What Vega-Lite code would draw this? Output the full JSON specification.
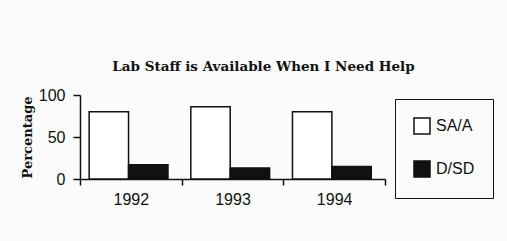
{
  "$schema": "https://vega.github.io/schema/vega-lite/v6.json",
  "autosize": "none",
  "width": 305,
  "height": 84,
  "padding": {"left": 80, "top": 95, "right": 122, "bottom": 62},
  "background": "#fbfbfb",
  "title": {
    "text": "Lab Staff is Available When I Need Help",
    "font": "DejaVu Serif",
    "fontWeight": "bold",
    "fontSize": 13.5,
    "color": "#111111",
    "anchor": "middle",
    "dx": 31,
    "offset": 14
  },
  "data": {
    "values": [
      {"year": "1992", "group": "SA/A", "pct": 80},
      {"year": "1992", "group": "D/SD", "pct": 17},
      {"year": "1993", "group": "SA/A", "pct": 86},
      {"year": "1993", "group": "D/SD", "pct": 13},
      {"year": "1994", "group": "SA/A", "pct": 80},
      {"year": "1994", "group": "D/SD", "pct": 15}
    ]
  },
  "mark": {"type": "bar", "stroke": "#111111", "strokeWidth": 1.5},
  "encoding": {
    "x": {
      "field": "year",
      "type": "nominal",
      "scale": {"paddingInner": 0, "paddingOuter": 0},
      "axis": {
        "title": null,
        "labelAngle": 0,
        "tickBand": "extent",
        "labelFont": "Liberation Sans",
        "labelFontSize": 16,
        "labelColor": "#111111",
        "domainColor": "#111111",
        "domainWidth": 1.5,
        "tickColor": "#111111",
        "tickWidth": 1.5,
        "tickSize": 6,
        "labelPadding": 6
      }
    },
    "xOffset": {
      "field": "group",
      "type": "nominal",
      "sort": ["SA/A", "D/SD"],
      "scale": {"paddingInner": 0, "paddingOuter": 0.29, "align": 0.4}
    },
    "y": {
      "field": "pct",
      "type": "quantitative",
      "scale": {"domain": [0, 100]},
      "axis": {
        "title": "Percentage",
        "titleFont": "DejaVu Serif",
        "titleFontWeight": "bold",
        "titleFontSize": 13,
        "titleColor": "#111111",
        "titlePadding": 4,
        "values": [0, 50, 100],
        "grid": false,
        "labelFont": "Liberation Sans",
        "labelFontSize": 16,
        "labelColor": "#111111",
        "domainColor": "#111111",
        "domainWidth": 1.5,
        "tickColor": "#111111",
        "tickWidth": 1.5,
        "tickSize": 7,
        "labelPadding": 8
      }
    },
    "fill": {
      "field": "group",
      "type": "nominal",
      "sort": ["SA/A", "D/SD"],
      "scale": {"domain": ["SA/A", "D/SD"], "range": ["#ffffff", "#111111"]},
      "legend": {
        "title": null,
        "orient": "none",
        "legendX": 315,
        "legendY": 4,
        "direction": "vertical",
        "symbolType": "square",
        "symbolSize": 256,
        "labelFont": "Liberation Sans",
        "labelFontSize": 16,
        "labelColor": "#111111",
        "labelOffset": 5
      }
    }
  },
  "config": {
    "view": {"stroke": null},
    "legend": {
      "strokeColor": "#111111",
      "padding": 18,
      "rowPadding": 21,
      "symbolStrokeColor": "#111111",
      "symbolStrokeWidth": 1.5,
      "symbolOffset": 0
    }
  }
}
